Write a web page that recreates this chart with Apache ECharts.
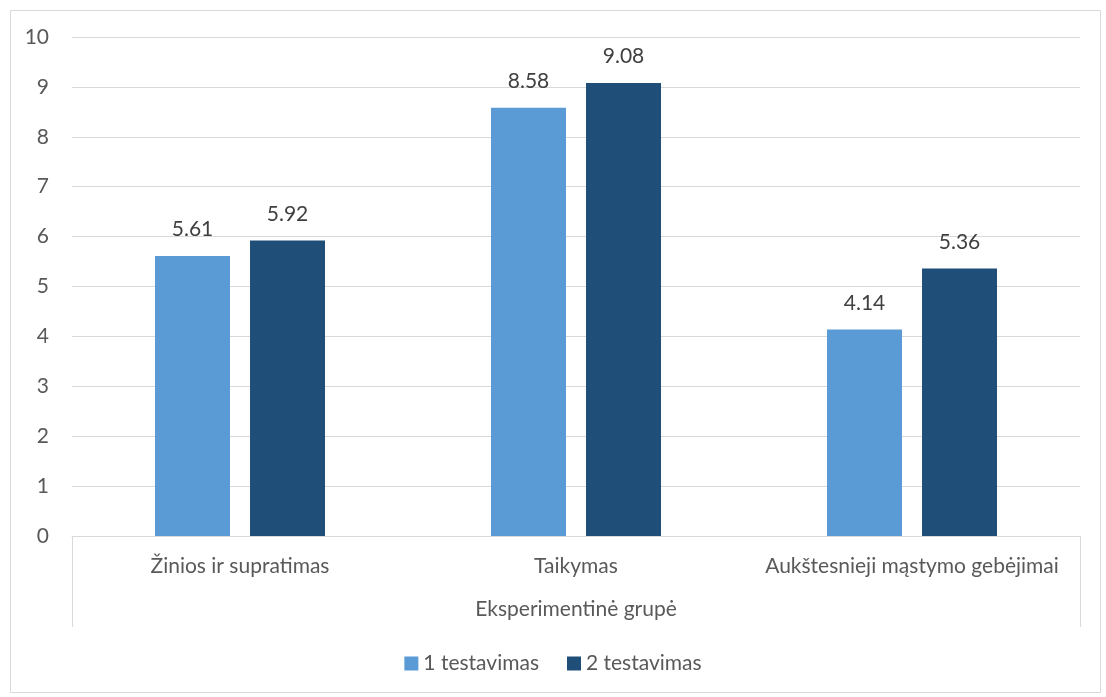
<!DOCTYPE html>
<html>
<head>
<meta charset="utf-8">
<script src="https://cdn.jsdelivr.net/npm/echarts@6/dist/echarts.min.js"></script>
<style>
  html, body { margin: 0; padding: 0; background: #fff; }
  #container { width: 1106px; height: 697px; }
</style>
</head>
<body>
<div id="container"></div>
<script>
var dom = document.getElementById("container");
var myChart = echarts.init(dom);

var categories = ['Žinios ir supratimas', 'Taikymas', 'Aukštesnieji mąstymo gebėjimai'];
var groupName = 'Eksperimentinė grupė';
var test1 = [5.61, 8.58, 4.14];    // 1 testavimas
var test2 = [5.92, 9.08, 5.36];    // 2 testavimas
var seriesNames = ['1 testavimas', '2 testavimas'];

var font = 'Lato, "Open Sans", sans-serif';
var textColor = '#595959';
var fs = 21;

var labelStyle = {
    show: true,
    position: 'top',
    distance: 16,
    color: '#404040',
    fontSize: fs,
    fontFamily: font
};

var option = {
    animation: false,
    backgroundColor: '#fff',
    graphic: [{
        type: 'rect',
        left: 8,
        top: 8,
        shape: {width: 1090, height: 682},
        style: {fill: 'none', stroke: '#d9d9d9', lineWidth: 1}
    }],
    legend: {
        bottom: 18,
        left: 'center',
        itemWidth: 14,
        itemHeight: 14,
        itemGap: 28,
        icon: 'rect',
        textStyle: {color: textColor, fontSize: fs, fontFamily: font},
        data: seriesNames
    },
    grid: {
        left: 72,
        right: 26,
        top: 37,
        bottom: 161
    },
    xAxis: [{
        type: 'category',
        data: categories,
        axisLine: {lineStyle: {color: '#d9d9d9'}},
        axisTick: {show: false},
        axisLabel: {
            color: textColor, fontSize: fs, fontFamily: font, margin: 20,
            interval: 0, hideOverlap: false
        }
    }, {
        // grupės lygis po kategorijomis
        type: 'category',
        position: 'bottom',
        data: [groupName],
        axisLine: {show: false},
        axisTick: {show: true, length: 91, lineStyle: {color: '#d9d9d9'}},
        axisLabel: {color: textColor, fontSize: fs, fontFamily: font, margin: 63}
    }],
    yAxis: {
        type: 'value',
        min: 0,
        max: 10,
        interval: 1,
        axisLine: {show: false},
        axisTick: {show: false},
        splitLine: {lineStyle: {color: '#d9d9d9'}},
        axisLabel: {color: textColor, fontSize: fs, fontFamily: font, margin: 23}
    },
    series: [{
        name: seriesNames[0],
        type: 'bar',
        barWidth: 75,
        barGap: '26.7%',
        itemStyle: {color: '#5b9bd5'},
        label: labelStyle,
        data: test1
    }, {
        name: seriesNames[1],
        type: 'bar',
        barWidth: 75,
        itemStyle: {color: '#1f4e79'},
        label: labelStyle,
        data: test2
    }]
};

myChart.setOption(option, true);
</script>
</body>
</html>
